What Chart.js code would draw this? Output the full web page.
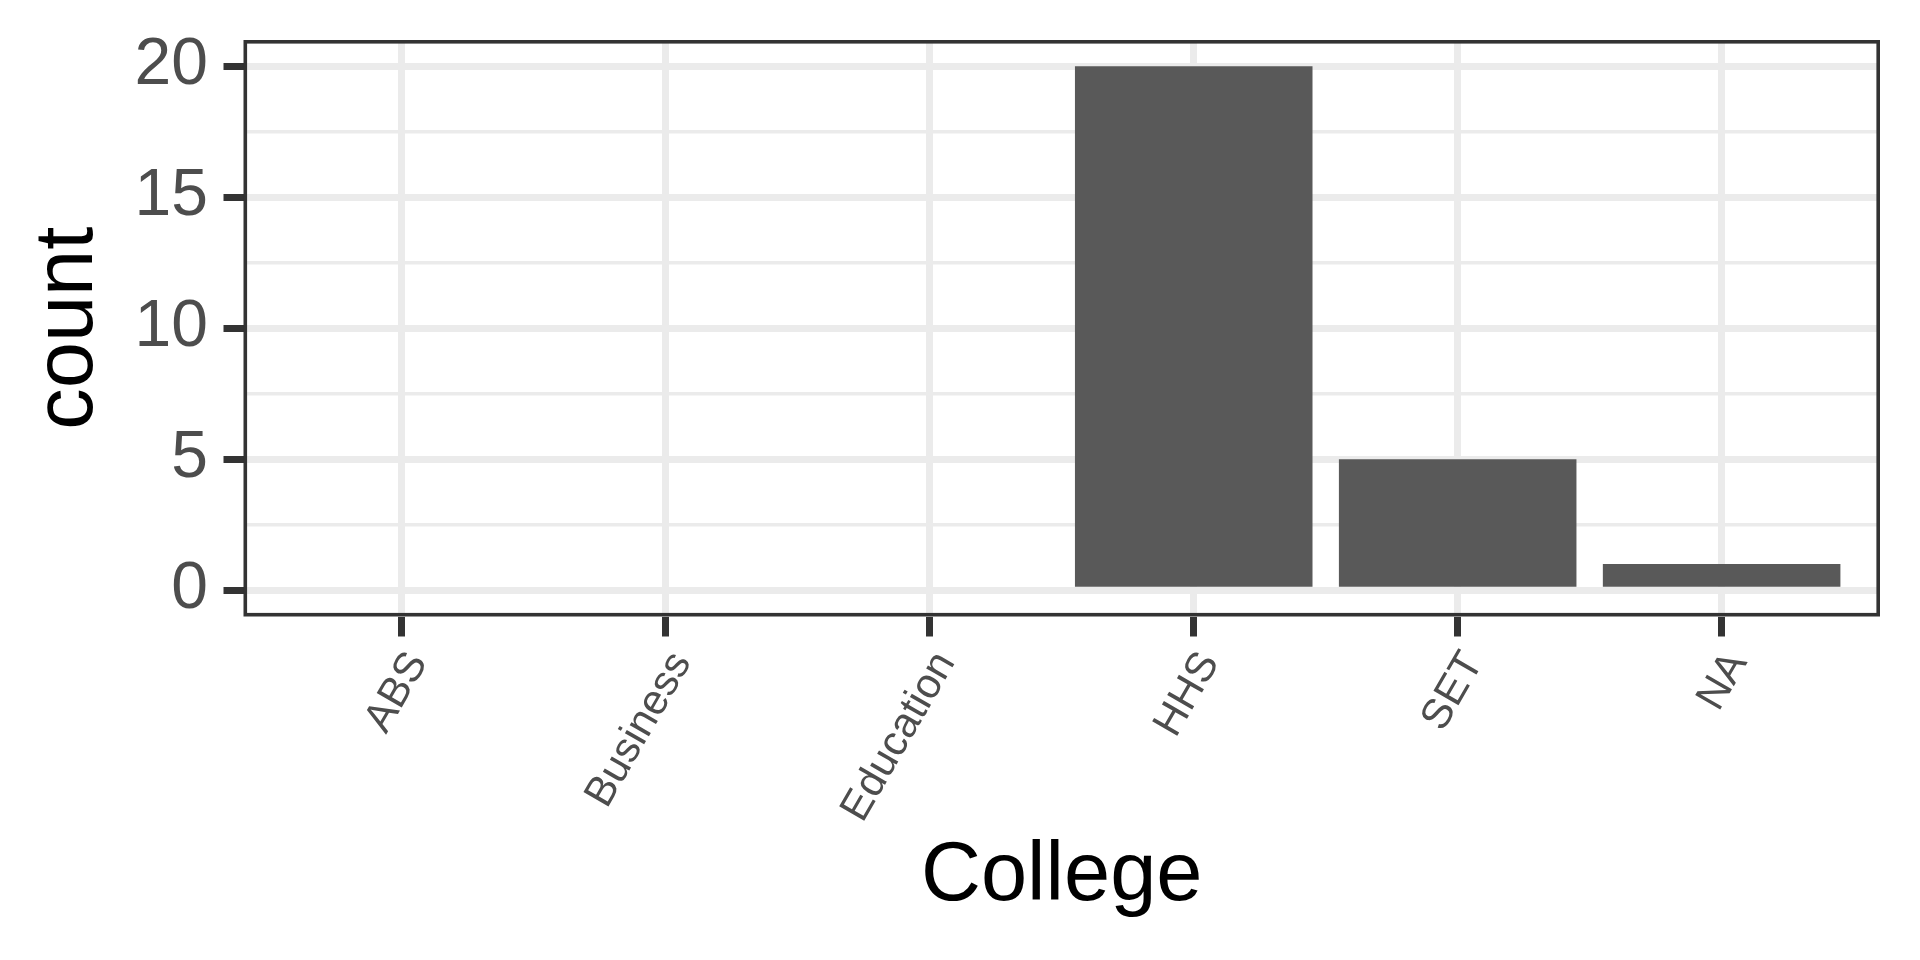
<!DOCTYPE html>
<html>
<head>
<meta charset="utf-8">
<script src="https://cdn.jsdelivr.net/npm/chart.js@4/dist/chart.umd.min.js"></script>
<style>
  html, body { margin: 0; padding: 0; background: #ffffff; }
  #Chart { display: block; }
</style>
</head>
<body>
<canvas id="Chart" width="1920" height="960"></canvas>
<script>
const colleges = ["ABS", "Business", "Education", "HHS", "SET", "NA"];
const counts = [0, 0, 0, 20, 5, 1];
const yTicks = [0, 5, 10, 15, 20];

const FONT = "'Liberation Sans', Arial, Helvetica, sans-serif";
const GRID = "#EBEBEB";
const DARK = "#333333";

// major ticks plus the minor gridlines halfway between them
const yGrid = [];
yTicks.forEach((v, i) => {
  yGrid.push(v);
  if (i < yTicks.length - 1) yGrid.push((v + yTicks[i + 1]) / 2);
});

const panelBorder = {
  id: "panelBorder",
  afterDatasetsDraw(chart) {
    const a = chart.chartArea;
    const c = chart.ctx;
    c.save();
    c.strokeStyle = DARK;
    c.lineWidth = 3.6;
    c.strokeRect(a.left + 1.8, a.top + 1.8, a.right - a.left - 3.6, a.bottom - a.top - 3.6);
    c.restore();
  }
};

const ctx = document.getElementById("Chart").getContext("2d");

new Chart(ctx, {
  type: "bar",
  data: {
    datasets: [
      {
        data: colleges.map((c, i) => ({ x: i, y: counts[i] })),
        backgroundColor: "#595959",
        borderWidth: 0,
        barPercentage: 0.9,
        categoryPercentage: 1
      }
    ]
  },
  options: {
    responsive: false,
    animation: false,
    devicePixelRatio: 1,
    layout: { padding: { top: 40, right: 40, left: 0, bottom: 0 } },
    plugins: { legend: { display: false }, tooltip: { enabled: false } },
    scales: {
      x: {
        type: "linear",
        offset: false,
        min: -0.6,
        max: 5.6,
        afterBuildTicks: axis => {
          axis.ticks = colleges.map((c, i) => ({ value: i }));
        },
        afterFit: scale => {
          scale.height = 343.5;
          scale.paddingLeft = 0;
          scale.paddingRight = 0;
        },
        border: { display: false },
        grid: {
          offset: false,
          color: GRID,
          lineWidth: 7,
          tickColor: DARK,
          tickWidth: 7,
          tickLength: 20
        },
        ticks: {
          autoSkip: false,
          minRotation: 60,
          maxRotation: 60,
          padding: 7,
          labelOffset: 16,
          color: "#4D4D4D",
          font: { family: FONT, size: 42 },
          callback: v => colleges[v]
        },
        title: {
          display: true,
          text: "College",
          color: "#000000",
          font: { family: FONT, size: 83, lineHeight: 1 },
          padding: { top: 0, bottom: 41 }
        }
      },
      y: {
        min: -1,
        max: 21,
        afterBuildTicks: axis => {
          axis.ticks = yGrid.map(v => ({ value: v }));
        },
        afterFit: scale => {
          scale.width = 243.5;
          scale.paddingTop = 0;
          scale.paddingBottom = 0;
        },
        border: { display: false },
        grid: {
          color: GRID,
          lineWidth: c => (yTicks.includes(c.tick.value) ? 7 : 3.6),
          tickColor: c => (yTicks.includes(c.tick.value) ? DARK : "rgba(0,0,0,0)"),
          tickWidth: 7,
          tickLength: 20
        },
        ticks: {
          autoSkip: false,
          padding: 15.5,
          color: "#4D4D4D",
          font: { family: FONT, size: 66 },
          callback: v => (yTicks.includes(v) ? String(v) : "")
        },
        title: {
          display: true,
          text: "count",
          color: "#000000",
          font: { family: FONT, size: 83, lineHeight: 1 },
          padding: { top: 28, bottom: 0 }
        }
      }
    }
  },
  plugins: [panelBorder]
});
</script>
</body>
</html>
